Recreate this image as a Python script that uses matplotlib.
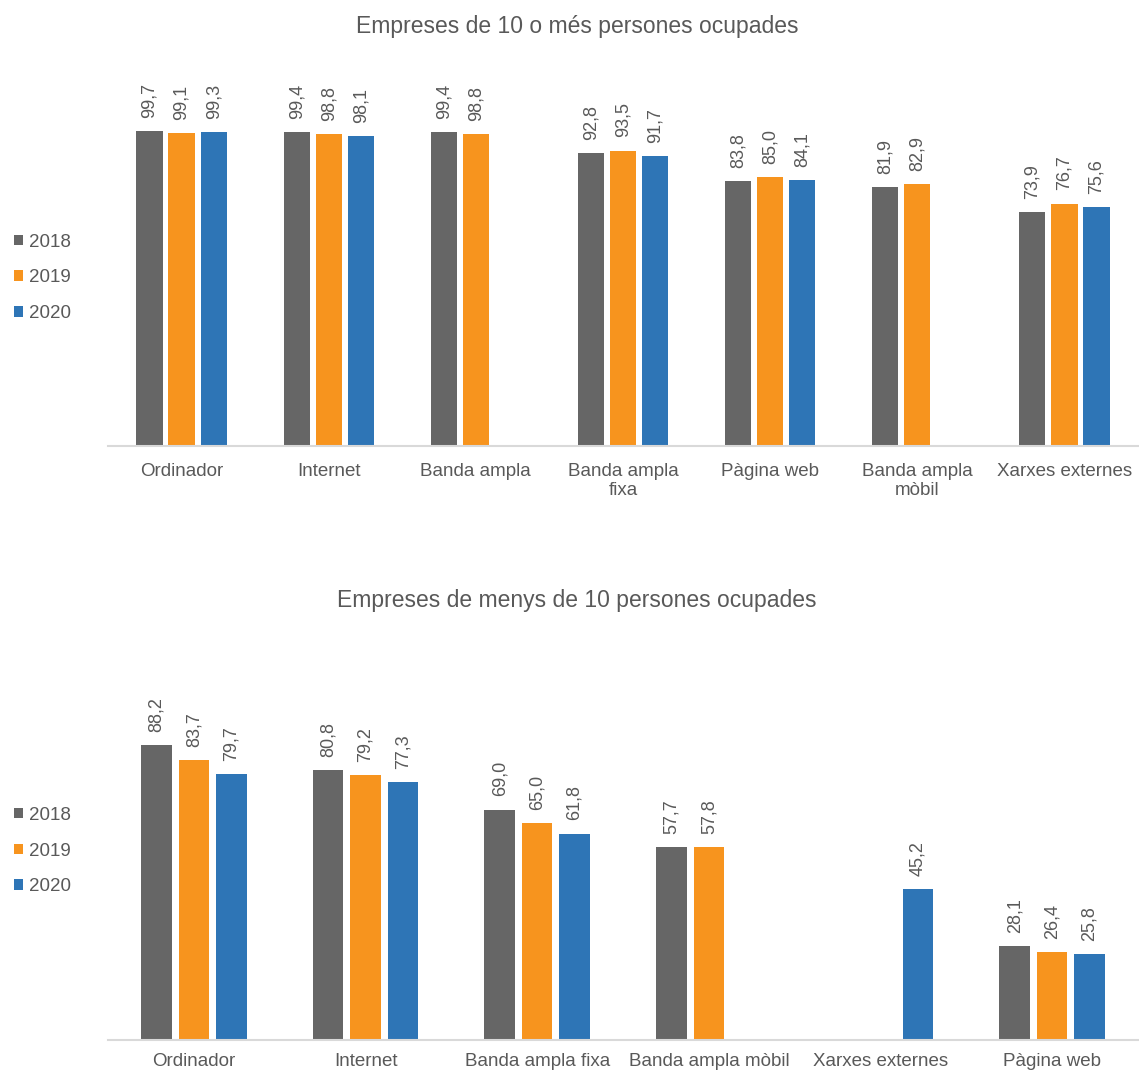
import numpy as np
import matplotlib
matplotlib.use("Agg")
import matplotlib.pyplot as plt
from matplotlib.patches import Patch

plt.rcParams['font.family'] = ['Liberation Sans', 'DejaVu Sans']

years = ['2018', '2019', '2020']
colors = ['#666666', '#f7941e', '#2e75b6']

top_title = 'Empreses de 10 o més persones ocupades'
top_categories = ['Ordinador', 'Internet', 'Banda ampla', 'Banda ampla\nfixa',
                  'Pàgina web', 'Banda ampla\nmòbil', 'Xarxes externes']
top_2018 = [99.7, 99.4, 99.4, 92.8, 83.8, 81.9, 73.9]
top_2019 = [99.1, 98.8, 98.8, 93.5, 85.0, 82.9, 76.7]
top_2020 = [99.3, 98.1, np.nan, 91.7, 84.1, np.nan, 75.6]

bot_title = 'Empreses de menys de 10 persones ocupades'
bot_categories = ['Ordinador', 'Internet', 'Banda ampla fixa', 'Banda ampla mòbil',
                  'Xarxes externes', 'Pàgina web']
bot_2018 = [88.2, 80.8, 69.0, 57.7, np.nan, 28.1]
bot_2019 = [83.7, 79.2, 65.0, 57.8, np.nan, 26.4]
bot_2020 = [79.7, 77.3, 61.8, np.nan, 45.2, 25.8]

W, H = 1139, 1072
fig = plt.figure(figsize=(W / 100, H / 100), dpi=100)

text_color = '#595959'


def draw(ax, cats, series, ymax, pad):
    x = np.arange(len(cats))
    offsets = [-0.218, 0.0, 0.218]
    width = 0.178
    for s, off, c in zip(series, offsets, colors):
        vals = np.array(s, dtype=float)
        ax.bar(x + off, np.nan_to_num(vals), width, color=c,
               edgecolor='none')
        for xi, v in zip(x + off, vals):
            if np.isnan(v):
                continue
            ax.annotate(f"{v:.1f}".replace('.', ','), xy=(xi, v),
                        xytext=(0, 9.5), textcoords='offset points',
                        rotation=90, ha='center', va='bottom',
                        fontsize=13, color=text_color)
    ax.set_xlim(-0.5, len(cats) - 0.5)
    ax.set_ylim(0, ymax)
    ax.set_xticks(x)
    ax.set_xticklabels(cats, fontsize=13.5, color=text_color, linespacing=1.2)
    ax.tick_params(axis='x', length=0, pad=pad)
    ax.set_yticks([])
    for sp in ['top', 'left', 'right']:
        ax.spines[sp].set_visible(False)
    ax.spines['bottom'].set_color('#d9d9d9')
    ax.spines['bottom'].set_linewidth(1.5)


left = 108 / W
width = (1138 - 108) / W

ax1 = fig.add_axes([left, 1 - 446 / H, width, 115 * 3.16 / H])
draw(ax1, top_categories, [top_2018, top_2019, top_2020], 115, 12)

ax2 = fig.add_axes([left, 1 - 1040 / H, width, 100 * 3.34 / H])
draw(ax2, bot_categories, [bot_2018, bot_2019, bot_2020], 100, 9.5)

fig.text(577 / W, 1 - 27 / H, top_title, ha='center', va='center',
         fontsize=16.5, color=text_color)
fig.text(577 / W, 1 - 600 / H, bot_title, ha='center', va='center',
         fontsize=16.5, color=text_color)

handles = [Patch(facecolor=c, edgecolor='none', label=y) for c, y in zip(colors, years)]
for yc in [278, 851]:
    fig.legend(handles=handles, loc='center left',
               bbox_to_anchor=(14 / W, 1 - yc / H), frameon=False,
               fontsize=13.5, handlelength=0.5, handleheight=0.5,
               handletextpad=0.3, labelspacing=1.0, labelcolor=text_color,
               borderaxespad=0, borderpad=0)

fig.savefig('out.png', dpi=100)
